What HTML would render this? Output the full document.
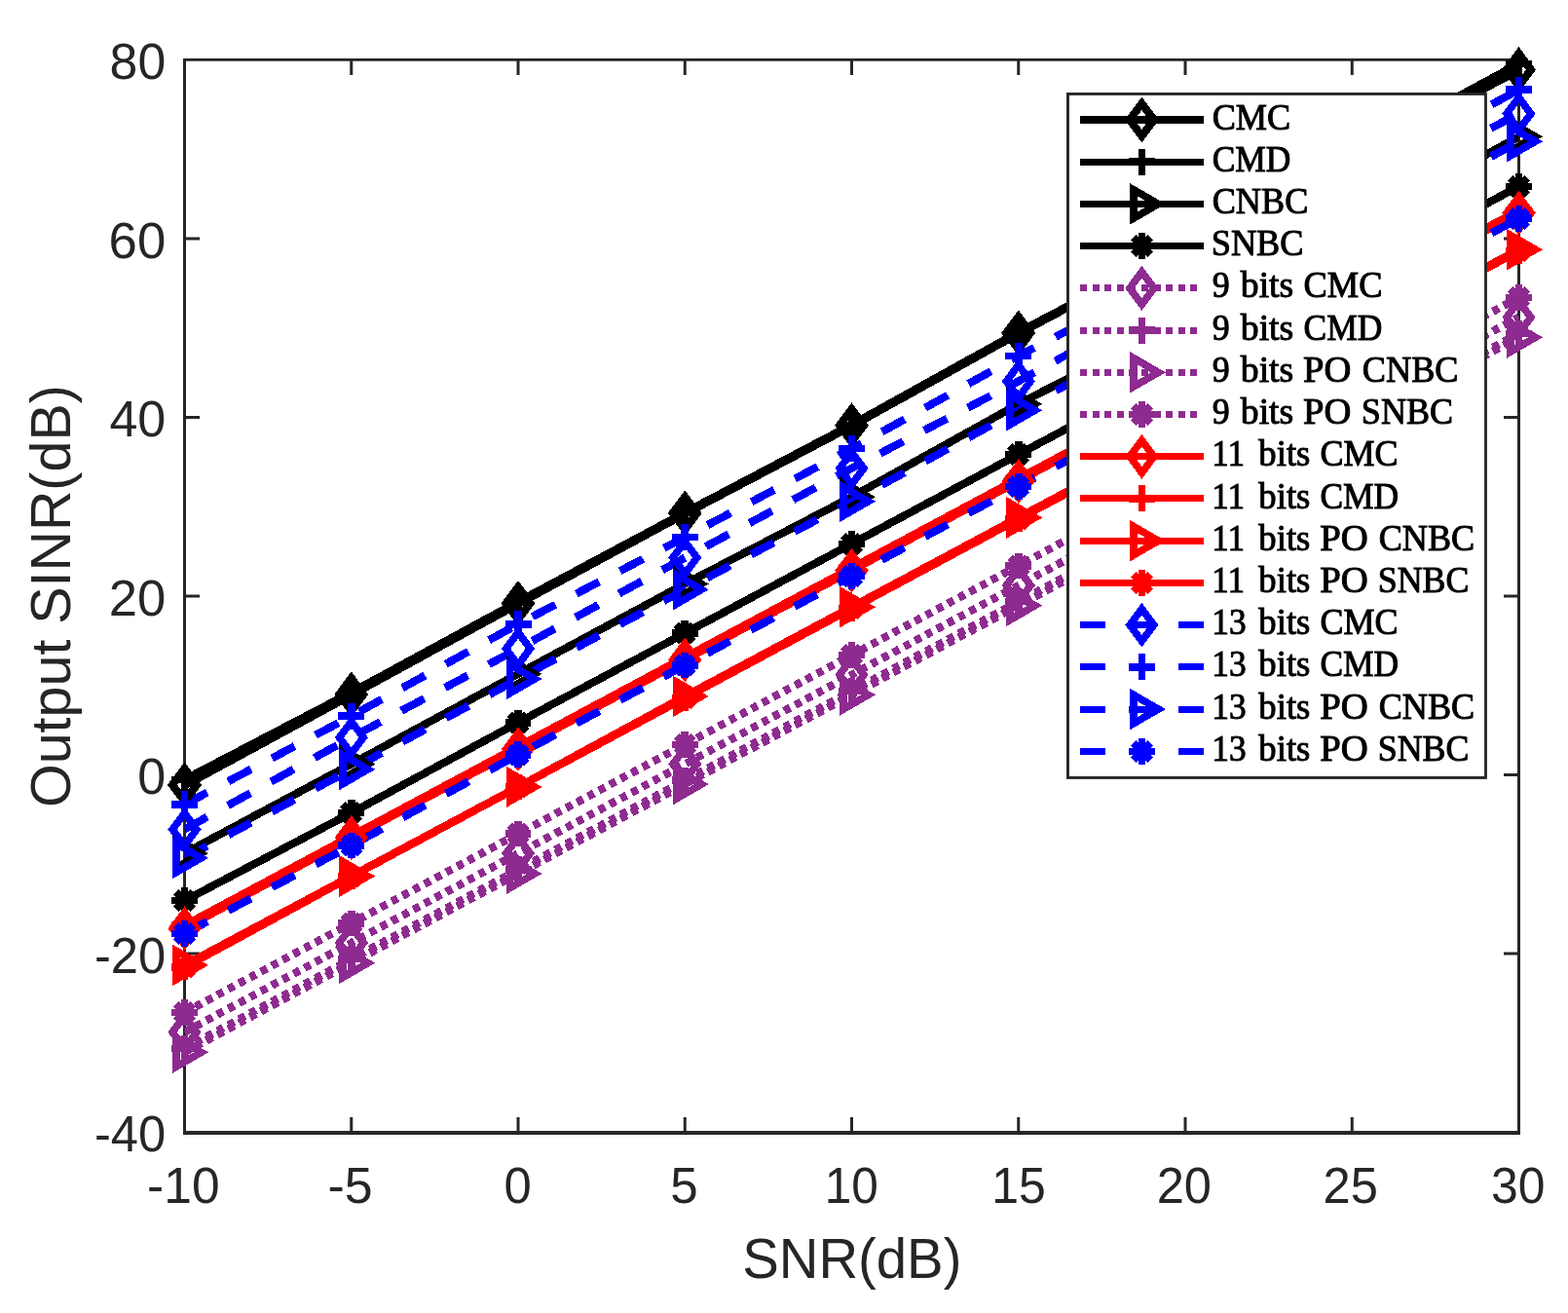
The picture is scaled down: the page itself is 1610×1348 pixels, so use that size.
<!DOCTYPE html>
<html lang="en"><head><meta charset="utf-8"><title>Output SINR versus SNR</title>
<style>html,body{margin:0;padding:0;background:#fff}body{width:1610px;height:1348px;overflow:hidden}svg{display:block}text{font-family:"Liberation Sans",Arial,Helvetica,sans-serif;fill:#262626}.tk{font-size:52px}.lb{font-size:57px}text.lg{font-family:"Liberation Serif","Times New Roman",serif;font-size:38px;fill:#000;stroke:#000;stroke-width:1px}</style></head><body>
<svg width="1610" height="1348" viewBox="0 0 1610 1348">
<rect width="1610" height="1348" fill="#fff"/>
<defs><clipPath id="c"><rect x="189.5" y="61.5" width="1370" height="1101"/></clipPath></defs>
<path fill="#262626" d="M188 60H191V1164.9H188ZM1558 60H1561V1164.9H1558ZM188 60H1561V62.8H188ZM188 1161.1H1561V1164.9H188ZM359.25 1147H362.25V1162H359.25ZM359.25 62H362.25V77H359.25ZM530.5 1147H533.5V1162H530.5ZM530.5 62H533.5V77H530.5ZM701.75 1147H704.75V1162H701.75ZM701.75 62H704.75V77H701.75ZM873 1147H876V1162H873ZM873 62H876V77H873ZM1044.25 1147H1047.25V1162H1044.25ZM1044.25 62H1047.25V77H1044.25ZM1215.5 1147H1218.5V1162H1215.5ZM1215.5 62H1218.5V77H1215.5ZM1386.75 1147H1389.75V1162H1386.75ZM1386.75 62H1389.75V77H1386.75ZM190 977.4H205V980.6H190ZM1544 977.4H1559V980.6H1544ZM190 793.9H205V797.1H190ZM1544 793.9H1559V797.1H1544ZM190 610.4H205V613.6H190ZM1544 610.4H1559V613.6H1544ZM190 426.9H205V430.1H190ZM1544 426.9H1559V430.1H1544ZM190 243.4H205V246.6H190ZM1544 243.4H1559V246.6H1544Z"/>
<g class="tk">
<text transform="translate(151.09 1235.3) scale(0.9904 1)">-10</text>
<text transform="translate(336.47 1235.3) scale(0.9973 1)">-5</text>
<text transform="translate(517.6 1235.3) scale(0.9761 1)">0</text>
<text transform="translate(688.35 1235.3) scale(0.9834 1)">5</text>
<text transform="translate(846.82 1235.3) scale(0.9523 1)">10</text>
<text transform="translate(1018.19 1235.3) scale(0.9609 1)">15</text>
<text transform="translate(1187.65 1235.3) scale(0.9732 1)">20</text>
<text transform="translate(1358.45 1235.3) scale(0.9760 1)">25</text>
<text transform="translate(1530.98 1235.3) scale(0.9584 1)">30</text>
<text transform="translate(112.6 81.1) scale(0.9957 1)">80</text>
<text transform="translate(111.61 264.6) scale(1.0134 1)">60</text>
<text transform="translate(112.39 448.1) scale(0.9994 1)">40</text>
<text transform="translate(111.76 631.6) scale(1.0108 1)">20</text>
<text transform="translate(141.35 815.1) scale(1.0003 1)">0</text>
<text transform="translate(96.93 998.6) scale(0.9748 1)">-20</text>
<text transform="translate(96.93 1182.1) scale(0.9748 1)">-40</text>
</g>
<g class="lb">
<text transform="translate(762.21 1312.2) scale(0.9879 1)">SNR(dB)</text>
<text transform="translate(71.8 828.95) rotate(-90) scale(1.0070 1)">Output SINR(dB)</text>
</g>
<g clip-path="url(#c)" fill="none" stroke-width="8.2" shape-rendering="crispEdges">
<path d="M189.5 805.87L360.75 712.92L532 619.34L703.25 526.86L874.5 436.76L1045.75 341.8L1217 251.42L1388.25 161.51L1559.5 71.59" stroke="#000000" stroke-width="9.4"/>
<path d="M189.5 800.36L360.75 710.91L532 617.78L703.25 526.4L874.5 436.76L1045.75 341.8L1217 250.5L1388.25 157.84L1559.5 65.45" stroke="#000000"/>
<path d="M189.5 876.06L360.75 784.49L532 691.82L703.25 599.52L874.5 510.16L1045.75 414.83L1217 326.66L1388.25 234.91L1559.5 140.22" stroke="#000000"/>
<path d="M189.5 924.68L360.75 834.59L532 741.83L703.25 650.08L874.5 558.33L1045.75 466.58L1217 374.83L1388.25 283.08L1559.5 191.33" stroke="#000000"/>
<path d="M189.5 1059.74L360.75 967.99L532 876.24L703.25 784.49L874.5 692.74L1045.75 600.99L1217 509.24L1388.25 417.49L1559.5 325.74" stroke="#8E2B90" stroke-dasharray="7 5.7"/>
<path d="M189.5 1076.44L360.75 984.69L532 892.94L703.25 801.19L874.5 709.44L1045.75 617.69L1217 525.94L1388.25 434.19L1559.5 342.44" stroke="#8E2B90" stroke-dasharray="7 5.7"/>
<path d="M189.5 1080.38L360.75 988.63L532 896.88L703.25 805.13L874.5 713.38L1045.75 621.63L1217 529.88L1388.25 438.13L1559.5 346.38" stroke="#8E2B90" stroke-dasharray="7 5.7"/>
<path d="M189.5 1039.56L360.75 947.81L532 856.06L703.25 764.31L874.5 672.56L1045.75 580.81L1217 489.05L1388.25 397.3L1559.5 305.55" stroke="#8E2B90" stroke-dasharray="7 5.7"/>
<path d="M189.5 953.22L360.75 860L532 769.17L703.25 677.42L874.5 585.67L1045.75 493.92L1217 402.17L1388.25 310.42L1559.5 218.67" stroke="#FF0000"/>
<path d="M189.5 950.1L360.75 858.35L532 766.6L703.25 674.85L874.5 583.1L1045.75 491.35L1217 399.6L1388.25 307.85L1559.5 216.1" stroke="#FF0000"/>
<path d="M189.5 990.93L360.75 899.45L532 807.89L703.25 714.94L874.5 623.19L1045.75 531.44L1217 439.69L1388.25 347.94L1559.5 256.19" stroke="#FF0000"/>
<path d="M189.5 993.04L360.75 899.91L532 808.16L703.25 716.41L874.5 624.66L1045.75 532.91L1217 441.16L1388.25 349.41L1559.5 257.66" stroke="#FF0000"/>
<path d="M189.5 851.47L360.75 757.15L532 665.95L703.25 572.55L874.5 480.8L1045.75 391.43L1217 297.3L1388.25 205.55L1559.5 116.73" stroke="#0000FF" stroke-dasharray="26.5 24.25"/>
<path d="M189.5 825.96L360.75 735.22L532 640.72L703.25 551.45L874.5 460.61L1045.75 365.47L1217 277.11L1388.25 185.36L1559.5 92.05" stroke="#0000FF" stroke-dasharray="26.5 24.25"/>
<path d="M189.5 880.92L360.75 789.9L532 697.05L703.25 605.3L874.5 514.75L1045.75 421.16L1217 331.25L1388.25 239.5L1559.5 145.18" stroke="#0000FF" stroke-dasharray="26.5 24.25"/>
<path d="M189.5 958.45L360.75 867.98L532 774.76L703.25 683.01L874.5 591.26L1045.75 499.51L1217 407.76L1388.25 316.01L1559.5 224.26" stroke="#0000FF" stroke-dasharray="26.5 24.25"/>
</g>
<g shape-rendering="crispEdges">
<path d="M189.5 789.27L201.9 805.87L189.5 822.47L177.1 805.87Z" fill="none" stroke="#000000" stroke-width="8.2" stroke-linejoin="miter" stroke-miterlimit="10"/>
<path d="M360.75 696.32L373.15 712.92L360.75 729.52L348.35 712.92Z" fill="none" stroke="#000000" stroke-width="8.2" stroke-linejoin="miter" stroke-miterlimit="10"/>
<path d="M532 602.74L544.4 619.34L532 635.94L519.6 619.34Z" fill="none" stroke="#000000" stroke-width="8.2" stroke-linejoin="miter" stroke-miterlimit="10"/>
<path d="M703.25 510.26L715.65 526.86L703.25 543.46L690.85 526.86Z" fill="none" stroke="#000000" stroke-width="8.2" stroke-linejoin="miter" stroke-miterlimit="10"/>
<path d="M874.5 420.16L886.9 436.76L874.5 453.36L862.1 436.76Z" fill="none" stroke="#000000" stroke-width="8.2" stroke-linejoin="miter" stroke-miterlimit="10"/>
<path d="M1045.75 325.2L1058.15 341.8L1045.75 358.4L1033.35 341.8Z" fill="none" stroke="#000000" stroke-width="8.2" stroke-linejoin="miter" stroke-miterlimit="10"/>
<path d="M1217 234.82L1229.4 251.42L1217 268.02L1204.6 251.42Z" fill="none" stroke="#000000" stroke-width="8.2" stroke-linejoin="miter" stroke-miterlimit="10"/>
<path d="M1388.25 144.91L1400.65 161.51L1388.25 178.11L1375.85 161.51Z" fill="none" stroke="#000000" stroke-width="8.2" stroke-linejoin="miter" stroke-miterlimit="10"/>
<path d="M1559.5 54.99L1571.9 71.59L1559.5 88.19L1547.1 71.59Z" fill="none" stroke="#000000" stroke-width="8.2" stroke-linejoin="miter" stroke-miterlimit="10"/>
<path d="M176 800.36H203M189.5 786.86V813.86" fill="none" stroke="#000000" stroke-width="7.6"/>
<path d="M347.25 710.91H374.25M360.75 697.41V724.41" fill="none" stroke="#000000" stroke-width="7.6"/>
<path d="M518.5 617.78H545.5M532 604.28V631.28" fill="none" stroke="#000000" stroke-width="7.6"/>
<path d="M689.75 526.4H716.75M703.25 512.9V539.9" fill="none" stroke="#000000" stroke-width="7.6"/>
<path d="M861 436.76H888M874.5 423.26V450.26" fill="none" stroke="#000000" stroke-width="7.6"/>
<path d="M1032.25 341.8H1059.25M1045.75 328.3V355.3" fill="none" stroke="#000000" stroke-width="7.6"/>
<path d="M1203.5 250.5H1230.5M1217 237V264" fill="none" stroke="#000000" stroke-width="7.6"/>
<path d="M1374.75 157.84H1401.75M1388.25 144.34V171.34" fill="none" stroke="#000000" stroke-width="7.6"/>
<path d="M1546 65.45H1573M1559.5 51.95V78.95" fill="none" stroke="#000000" stroke-width="7.6"/>
<path d="M206.5 876.06L181 861.33L181 890.78Z" fill="none" stroke="#000000" stroke-width="7.6" stroke-linejoin="miter" stroke-miterlimit="10"/>
<path d="M377.75 784.49L352.25 769.77L352.25 799.21Z" fill="none" stroke="#000000" stroke-width="7.6" stroke-linejoin="miter" stroke-miterlimit="10"/>
<path d="M549 691.82L523.5 677.1L523.5 706.54Z" fill="none" stroke="#000000" stroke-width="7.6" stroke-linejoin="miter" stroke-miterlimit="10"/>
<path d="M720.25 599.52L694.75 584.8L694.75 614.24Z" fill="none" stroke="#000000" stroke-width="7.6" stroke-linejoin="miter" stroke-miterlimit="10"/>
<path d="M891.5 510.16L866 495.44L866 524.88Z" fill="none" stroke="#000000" stroke-width="7.6" stroke-linejoin="miter" stroke-miterlimit="10"/>
<path d="M1062.75 414.83L1037.25 400.11L1037.25 429.55Z" fill="none" stroke="#000000" stroke-width="7.6" stroke-linejoin="miter" stroke-miterlimit="10"/>
<path d="M1234 326.66L1208.5 311.94L1208.5 341.38Z" fill="none" stroke="#000000" stroke-width="7.6" stroke-linejoin="miter" stroke-miterlimit="10"/>
<path d="M1405.25 234.91L1379.75 220.19L1379.75 249.63Z" fill="none" stroke="#000000" stroke-width="7.6" stroke-linejoin="miter" stroke-miterlimit="10"/>
<path d="M1576.5 140.22L1551 125.5L1551 154.94Z" fill="none" stroke="#000000" stroke-width="7.6" stroke-linejoin="miter" stroke-miterlimit="10"/>
<path d="M176.2 924.68H202.8M189.5 911.38V937.98M180.73 915.92L198.27 933.45M180.73 933.45L198.27 915.92" fill="none" stroke="#000000" stroke-width="7.6"/>
<path d="M347.45 834.59H374.05M360.75 821.29V847.89M351.98 825.82L369.52 843.35M351.98 843.35L369.52 825.82" fill="none" stroke="#000000" stroke-width="7.6"/>
<path d="M518.7 741.83H545.3M532 728.53V755.13M523.23 733.06L540.77 750.59M523.23 750.59L540.77 733.06" fill="none" stroke="#000000" stroke-width="7.6"/>
<path d="M689.95 650.08H716.55M703.25 636.78V663.38M694.48 641.31L712.02 658.84M694.48 658.84L712.02 641.31" fill="none" stroke="#000000" stroke-width="7.6"/>
<path d="M861.2 558.33H887.8M874.5 545.03V571.63M865.73 549.56L883.27 567.09M865.73 567.09L883.27 549.56" fill="none" stroke="#000000" stroke-width="7.6"/>
<path d="M1032.45 466.58H1059.05M1045.75 453.28V479.88M1036.98 457.81L1054.52 475.34M1036.98 475.34L1054.52 457.81" fill="none" stroke="#000000" stroke-width="7.6"/>
<path d="M1203.7 374.83H1230.3M1217 361.53V388.13M1208.23 366.06L1225.77 383.59M1208.23 383.59L1225.77 366.06" fill="none" stroke="#000000" stroke-width="7.6"/>
<path d="M1374.95 283.08H1401.55M1388.25 269.78V296.38M1379.48 274.31L1397.02 291.84M1379.48 291.84L1397.02 274.31" fill="none" stroke="#000000" stroke-width="7.6"/>
<path d="M1546.2 191.33H1572.8M1559.5 178.03V204.63M1550.73 182.56L1568.27 200.09M1550.73 200.09L1568.27 182.56" fill="none" stroke="#000000" stroke-width="7.6"/>
<path d="M189.5 1043.14L201.9 1059.74L189.5 1076.34L177.1 1059.74Z" fill="none" stroke="#8E2B90" stroke-width="7.6" stroke-linejoin="miter" stroke-miterlimit="10"/>
<path d="M360.75 951.39L373.15 967.99L360.75 984.59L348.35 967.99Z" fill="none" stroke="#8E2B90" stroke-width="7.6" stroke-linejoin="miter" stroke-miterlimit="10"/>
<path d="M532 859.64L544.4 876.24L532 892.84L519.6 876.24Z" fill="none" stroke="#8E2B90" stroke-width="7.6" stroke-linejoin="miter" stroke-miterlimit="10"/>
<path d="M703.25 767.89L715.65 784.49L703.25 801.09L690.85 784.49Z" fill="none" stroke="#8E2B90" stroke-width="7.6" stroke-linejoin="miter" stroke-miterlimit="10"/>
<path d="M874.5 676.14L886.9 692.74L874.5 709.34L862.1 692.74Z" fill="none" stroke="#8E2B90" stroke-width="7.6" stroke-linejoin="miter" stroke-miterlimit="10"/>
<path d="M1045.75 584.39L1058.15 600.99L1045.75 617.59L1033.35 600.99Z" fill="none" stroke="#8E2B90" stroke-width="7.6" stroke-linejoin="miter" stroke-miterlimit="10"/>
<path d="M1217 492.64L1229.4 509.24L1217 525.84L1204.6 509.24Z" fill="none" stroke="#8E2B90" stroke-width="7.6" stroke-linejoin="miter" stroke-miterlimit="10"/>
<path d="M1388.25 400.89L1400.65 417.49L1388.25 434.09L1375.85 417.49Z" fill="none" stroke="#8E2B90" stroke-width="7.6" stroke-linejoin="miter" stroke-miterlimit="10"/>
<path d="M1559.5 309.14L1571.9 325.74L1559.5 342.34L1547.1 325.74Z" fill="none" stroke="#8E2B90" stroke-width="7.6" stroke-linejoin="miter" stroke-miterlimit="10"/>
<path d="M176 1076.44H203M189.5 1062.94V1089.94" fill="none" stroke="#8E2B90" stroke-width="7.6"/>
<path d="M347.25 984.69H374.25M360.75 971.19V998.19" fill="none" stroke="#8E2B90" stroke-width="7.6"/>
<path d="M518.5 892.94H545.5M532 879.44V906.44" fill="none" stroke="#8E2B90" stroke-width="7.6"/>
<path d="M689.75 801.19H716.75M703.25 787.69V814.69" fill="none" stroke="#8E2B90" stroke-width="7.6"/>
<path d="M861 709.44H888M874.5 695.94V722.94" fill="none" stroke="#8E2B90" stroke-width="7.6"/>
<path d="M1032.25 617.69H1059.25M1045.75 604.19V631.19" fill="none" stroke="#8E2B90" stroke-width="7.6"/>
<path d="M1203.5 525.94H1230.5M1217 512.44V539.44" fill="none" stroke="#8E2B90" stroke-width="7.6"/>
<path d="M1374.75 434.19H1401.75M1388.25 420.69V447.69" fill="none" stroke="#8E2B90" stroke-width="7.6"/>
<path d="M1546 342.44H1573M1559.5 328.94V355.94" fill="none" stroke="#8E2B90" stroke-width="7.6"/>
<path d="M206.5 1080.38L181 1065.66L181 1095.11Z" fill="none" stroke="#8E2B90" stroke-width="7.6" stroke-linejoin="miter" stroke-miterlimit="10"/>
<path d="M377.75 988.63L352.25 973.91L352.25 1003.36Z" fill="none" stroke="#8E2B90" stroke-width="7.6" stroke-linejoin="miter" stroke-miterlimit="10"/>
<path d="M549 896.88L523.5 882.16L523.5 911.61Z" fill="none" stroke="#8E2B90" stroke-width="7.6" stroke-linejoin="miter" stroke-miterlimit="10"/>
<path d="M720.25 805.13L694.75 790.41L694.75 819.86Z" fill="none" stroke="#8E2B90" stroke-width="7.6" stroke-linejoin="miter" stroke-miterlimit="10"/>
<path d="M891.5 713.38L866 698.66L866 728.11Z" fill="none" stroke="#8E2B90" stroke-width="7.6" stroke-linejoin="miter" stroke-miterlimit="10"/>
<path d="M1062.75 621.63L1037.25 606.91L1037.25 636.36Z" fill="none" stroke="#8E2B90" stroke-width="7.6" stroke-linejoin="miter" stroke-miterlimit="10"/>
<path d="M1234 529.88L1208.5 515.16L1208.5 544.61Z" fill="none" stroke="#8E2B90" stroke-width="7.6" stroke-linejoin="miter" stroke-miterlimit="10"/>
<path d="M1405.25 438.13L1379.75 423.41L1379.75 452.86Z" fill="none" stroke="#8E2B90" stroke-width="7.6" stroke-linejoin="miter" stroke-miterlimit="10"/>
<path d="M1576.5 346.38L1551 331.66L1551 361.11Z" fill="none" stroke="#8E2B90" stroke-width="7.6" stroke-linejoin="miter" stroke-miterlimit="10"/>
<path d="M176.2 1039.56H202.8M189.5 1026.26V1052.86M180.73 1030.79L198.27 1048.32M180.73 1048.32L198.27 1030.79" fill="none" stroke="#8E2B90" stroke-width="7.6"/>
<path d="M347.45 947.81H374.05M360.75 934.51V961.11M351.98 939.04L369.52 956.57M351.98 956.57L369.52 939.04" fill="none" stroke="#8E2B90" stroke-width="7.6"/>
<path d="M518.7 856.06H545.3M532 842.76V869.36M523.23 847.29L540.77 864.82M523.23 864.82L540.77 847.29" fill="none" stroke="#8E2B90" stroke-width="7.6"/>
<path d="M689.95 764.31H716.55M703.25 751.01V777.61M694.48 755.54L712.02 773.07M694.48 773.07L712.02 755.54" fill="none" stroke="#8E2B90" stroke-width="7.6"/>
<path d="M861.2 672.56H887.8M874.5 659.26V685.86M865.73 663.79L883.27 681.32M865.73 681.32L883.27 663.79" fill="none" stroke="#8E2B90" stroke-width="7.6"/>
<path d="M1032.45 580.81H1059.05M1045.75 567.51V594.11M1036.98 572.04L1054.52 589.57M1036.98 589.57L1054.52 572.04" fill="none" stroke="#8E2B90" stroke-width="7.6"/>
<path d="M1203.7 489.05H1230.3M1217 475.75V502.35M1208.23 480.29L1225.77 497.82M1208.23 497.82L1225.77 480.29" fill="none" stroke="#8E2B90" stroke-width="7.6"/>
<path d="M1374.95 397.3H1401.55M1388.25 384V410.6M1379.48 388.54L1397.02 406.07M1379.48 406.07L1397.02 388.54" fill="none" stroke="#8E2B90" stroke-width="7.6"/>
<path d="M1546.2 305.55H1572.8M1559.5 292.25V318.85M1550.73 296.79L1568.27 314.32M1550.73 314.32L1568.27 296.79" fill="none" stroke="#8E2B90" stroke-width="7.6"/>
<path d="M189.5 936.62L201.9 953.22L189.5 969.82L177.1 953.22Z" fill="none" stroke="#FF0000" stroke-width="7.6" stroke-linejoin="miter" stroke-miterlimit="10"/>
<path d="M360.75 843.4L373.15 860L360.75 876.6L348.35 860Z" fill="none" stroke="#FF0000" stroke-width="7.6" stroke-linejoin="miter" stroke-miterlimit="10"/>
<path d="M532 752.57L544.4 769.17L532 785.77L519.6 769.17Z" fill="none" stroke="#FF0000" stroke-width="7.6" stroke-linejoin="miter" stroke-miterlimit="10"/>
<path d="M703.25 660.82L715.65 677.42L703.25 694.02L690.85 677.42Z" fill="none" stroke="#FF0000" stroke-width="7.6" stroke-linejoin="miter" stroke-miterlimit="10"/>
<path d="M874.5 569.07L886.9 585.67L874.5 602.27L862.1 585.67Z" fill="none" stroke="#FF0000" stroke-width="7.6" stroke-linejoin="miter" stroke-miterlimit="10"/>
<path d="M1045.75 477.32L1058.15 493.92L1045.75 510.52L1033.35 493.92Z" fill="none" stroke="#FF0000" stroke-width="7.6" stroke-linejoin="miter" stroke-miterlimit="10"/>
<path d="M1217 385.57L1229.4 402.17L1217 418.77L1204.6 402.17Z" fill="none" stroke="#FF0000" stroke-width="7.6" stroke-linejoin="miter" stroke-miterlimit="10"/>
<path d="M1388.25 293.82L1400.65 310.42L1388.25 327.02L1375.85 310.42Z" fill="none" stroke="#FF0000" stroke-width="7.6" stroke-linejoin="miter" stroke-miterlimit="10"/>
<path d="M1559.5 202.07L1571.9 218.67L1559.5 235.27L1547.1 218.67Z" fill="none" stroke="#FF0000" stroke-width="7.6" stroke-linejoin="miter" stroke-miterlimit="10"/>
<path d="M176 950.1H203M189.5 936.6V963.6" fill="none" stroke="#FF0000" stroke-width="7.6"/>
<path d="M347.25 858.35H374.25M360.75 844.85V871.85" fill="none" stroke="#FF0000" stroke-width="7.6"/>
<path d="M518.5 766.6H545.5M532 753.1V780.1" fill="none" stroke="#FF0000" stroke-width="7.6"/>
<path d="M689.75 674.85H716.75M703.25 661.35V688.35" fill="none" stroke="#FF0000" stroke-width="7.6"/>
<path d="M861 583.1H888M874.5 569.6V596.6" fill="none" stroke="#FF0000" stroke-width="7.6"/>
<path d="M1032.25 491.35H1059.25M1045.75 477.85V504.85" fill="none" stroke="#FF0000" stroke-width="7.6"/>
<path d="M1203.5 399.6H1230.5M1217 386.1V413.1" fill="none" stroke="#FF0000" stroke-width="7.6"/>
<path d="M1374.75 307.85H1401.75M1388.25 294.35V321.35" fill="none" stroke="#FF0000" stroke-width="7.6"/>
<path d="M1546 216.1H1573M1559.5 202.6V229.6" fill="none" stroke="#FF0000" stroke-width="7.6"/>
<path d="M206.5 990.93L181 976.21L181 1005.65Z" fill="none" stroke="#FF0000" stroke-width="7.6" stroke-linejoin="miter" stroke-miterlimit="10"/>
<path d="M377.75 899.45L352.25 884.73L352.25 914.17Z" fill="none" stroke="#FF0000" stroke-width="7.6" stroke-linejoin="miter" stroke-miterlimit="10"/>
<path d="M549 807.89L523.5 793.16L523.5 822.61Z" fill="none" stroke="#FF0000" stroke-width="7.6" stroke-linejoin="miter" stroke-miterlimit="10"/>
<path d="M720.25 714.94L694.75 700.22L694.75 729.67Z" fill="none" stroke="#FF0000" stroke-width="7.6" stroke-linejoin="miter" stroke-miterlimit="10"/>
<path d="M891.5 623.19L866 608.47L866 637.92Z" fill="none" stroke="#FF0000" stroke-width="7.6" stroke-linejoin="miter" stroke-miterlimit="10"/>
<path d="M1062.75 531.44L1037.25 516.72L1037.25 546.17Z" fill="none" stroke="#FF0000" stroke-width="7.6" stroke-linejoin="miter" stroke-miterlimit="10"/>
<path d="M1234 439.69L1208.5 424.97L1208.5 454.42Z" fill="none" stroke="#FF0000" stroke-width="7.6" stroke-linejoin="miter" stroke-miterlimit="10"/>
<path d="M1405.25 347.94L1379.75 333.22L1379.75 362.67Z" fill="none" stroke="#FF0000" stroke-width="7.6" stroke-linejoin="miter" stroke-miterlimit="10"/>
<path d="M1576.5 256.19L1551 241.47L1551 270.92Z" fill="none" stroke="#FF0000" stroke-width="7.6" stroke-linejoin="miter" stroke-miterlimit="10"/>
<path d="M176.2 993.04H202.8M189.5 979.74V1006.34M180.73 984.27L198.27 1001.81M180.73 1001.81L198.27 984.27" fill="none" stroke="#FF0000" stroke-width="7.6"/>
<path d="M347.45 899.91H374.05M360.75 886.61V913.21M351.98 891.14L369.52 908.68M351.98 908.68L369.52 891.14" fill="none" stroke="#FF0000" stroke-width="7.6"/>
<path d="M518.7 808.16H545.3M532 794.86V821.46M523.23 799.39L540.77 816.93M523.23 816.93L540.77 799.39" fill="none" stroke="#FF0000" stroke-width="7.6"/>
<path d="M689.95 716.41H716.55M703.25 703.11V729.71M694.48 707.64L712.02 725.18M694.48 725.18L712.02 707.64" fill="none" stroke="#FF0000" stroke-width="7.6"/>
<path d="M861.2 624.66H887.8M874.5 611.36V637.96M865.73 615.89L883.27 633.43M865.73 633.43L883.27 615.89" fill="none" stroke="#FF0000" stroke-width="7.6"/>
<path d="M1032.45 532.91H1059.05M1045.75 519.61V546.21M1036.98 524.14L1054.52 541.68M1036.98 541.68L1054.52 524.14" fill="none" stroke="#FF0000" stroke-width="7.6"/>
<path d="M1203.7 441.16H1230.3M1217 427.86V454.46M1208.23 432.39L1225.77 449.93M1208.23 449.93L1225.77 432.39" fill="none" stroke="#FF0000" stroke-width="7.6"/>
<path d="M1374.95 349.41H1401.55M1388.25 336.11V362.71M1379.48 340.64L1397.02 358.18M1379.48 358.18L1397.02 340.64" fill="none" stroke="#FF0000" stroke-width="7.6"/>
<path d="M1546.2 257.66H1572.8M1559.5 244.36V270.96M1550.73 248.89L1568.27 266.43M1550.73 266.43L1568.27 248.89" fill="none" stroke="#FF0000" stroke-width="7.6"/>
<path d="M189.5 834.87L201.9 851.47L189.5 868.07L177.1 851.47Z" fill="none" stroke="#0000FF" stroke-width="7.6" stroke-linejoin="miter" stroke-miterlimit="10"/>
<path d="M360.75 740.55L373.15 757.15L360.75 773.75L348.35 757.15Z" fill="none" stroke="#0000FF" stroke-width="7.6" stroke-linejoin="miter" stroke-miterlimit="10"/>
<path d="M532 649.35L544.4 665.95L532 682.55L519.6 665.95Z" fill="none" stroke="#0000FF" stroke-width="7.6" stroke-linejoin="miter" stroke-miterlimit="10"/>
<path d="M703.25 555.95L715.65 572.55L703.25 589.15L690.85 572.55Z" fill="none" stroke="#0000FF" stroke-width="7.6" stroke-linejoin="miter" stroke-miterlimit="10"/>
<path d="M874.5 464.2L886.9 480.8L874.5 497.4L862.1 480.8Z" fill="none" stroke="#0000FF" stroke-width="7.6" stroke-linejoin="miter" stroke-miterlimit="10"/>
<path d="M1045.75 374.83L1058.15 391.43L1045.75 408.03L1033.35 391.43Z" fill="none" stroke="#0000FF" stroke-width="7.6" stroke-linejoin="miter" stroke-miterlimit="10"/>
<path d="M1217 280.7L1229.4 297.3L1217 313.9L1204.6 297.3Z" fill="none" stroke="#0000FF" stroke-width="7.6" stroke-linejoin="miter" stroke-miterlimit="10"/>
<path d="M1388.25 188.95L1400.65 205.55L1388.25 222.15L1375.85 205.55Z" fill="none" stroke="#0000FF" stroke-width="7.6" stroke-linejoin="miter" stroke-miterlimit="10"/>
<path d="M1559.5 100.13L1571.9 116.73L1559.5 133.33L1547.1 116.73Z" fill="none" stroke="#0000FF" stroke-width="7.6" stroke-linejoin="miter" stroke-miterlimit="10"/>
<path d="M176 825.96H203M189.5 812.46V839.46" fill="none" stroke="#0000FF" stroke-width="7.6"/>
<path d="M347.25 735.22H374.25M360.75 721.72V748.72" fill="none" stroke="#0000FF" stroke-width="7.6"/>
<path d="M518.5 640.72H545.5M532 627.22V654.22" fill="none" stroke="#0000FF" stroke-width="7.6"/>
<path d="M689.75 551.45H716.75M703.25 537.95V564.95" fill="none" stroke="#0000FF" stroke-width="7.6"/>
<path d="M861 460.61H888M874.5 447.11V474.11" fill="none" stroke="#0000FF" stroke-width="7.6"/>
<path d="M1032.25 365.47H1059.25M1045.75 351.97V378.97" fill="none" stroke="#0000FF" stroke-width="7.6"/>
<path d="M1203.5 277.11H1230.5M1217 263.61V290.61" fill="none" stroke="#0000FF" stroke-width="7.6"/>
<path d="M1374.75 185.36H1401.75M1388.25 171.86V198.86" fill="none" stroke="#0000FF" stroke-width="7.6"/>
<path d="M1546 92.05H1573M1559.5 78.55V105.55" fill="none" stroke="#0000FF" stroke-width="7.6"/>
<path d="M206.5 880.92L181 866.2L181 895.64Z" fill="none" stroke="#0000FF" stroke-width="7.6" stroke-linejoin="miter" stroke-miterlimit="10"/>
<path d="M377.75 789.9L352.25 775.18L352.25 804.63Z" fill="none" stroke="#0000FF" stroke-width="7.6" stroke-linejoin="miter" stroke-miterlimit="10"/>
<path d="M549 697.05L523.5 682.33L523.5 711.77Z" fill="none" stroke="#0000FF" stroke-width="7.6" stroke-linejoin="miter" stroke-miterlimit="10"/>
<path d="M720.25 605.3L694.75 590.58L694.75 620.02Z" fill="none" stroke="#0000FF" stroke-width="7.6" stroke-linejoin="miter" stroke-miterlimit="10"/>
<path d="M891.5 514.75L866 500.02L866 529.47Z" fill="none" stroke="#0000FF" stroke-width="7.6" stroke-linejoin="miter" stroke-miterlimit="10"/>
<path d="M1062.75 421.16L1037.25 406.44L1037.25 435.88Z" fill="none" stroke="#0000FF" stroke-width="7.6" stroke-linejoin="miter" stroke-miterlimit="10"/>
<path d="M1234 331.25L1208.5 316.52L1208.5 345.97Z" fill="none" stroke="#0000FF" stroke-width="7.6" stroke-linejoin="miter" stroke-miterlimit="10"/>
<path d="M1405.25 239.5L1379.75 224.77L1379.75 254.22Z" fill="none" stroke="#0000FF" stroke-width="7.6" stroke-linejoin="miter" stroke-miterlimit="10"/>
<path d="M1576.5 145.18L1551 130.45L1551 159.9Z" fill="none" stroke="#0000FF" stroke-width="7.6" stroke-linejoin="miter" stroke-miterlimit="10"/>
<path d="M176.2 958.45H202.8M189.5 945.15V971.75M180.73 949.68L198.27 967.22M180.73 967.22L198.27 949.68" fill="none" stroke="#0000FF" stroke-width="7.6"/>
<path d="M347.45 867.98H374.05M360.75 854.68V881.28M351.98 859.21L369.52 876.75M351.98 876.75L369.52 859.21" fill="none" stroke="#0000FF" stroke-width="7.6"/>
<path d="M518.7 774.76H545.3M532 761.46V788.06M523.23 766L540.77 783.53M523.23 783.53L540.77 766" fill="none" stroke="#0000FF" stroke-width="7.6"/>
<path d="M689.95 683.01H716.55M703.25 669.71V696.31M694.48 674.25L712.02 691.78M694.48 691.78L712.02 674.25" fill="none" stroke="#0000FF" stroke-width="7.6"/>
<path d="M861.2 591.26H887.8M874.5 577.96V604.56M865.73 582.5L883.27 600.03M865.73 600.03L883.27 582.5" fill="none" stroke="#0000FF" stroke-width="7.6"/>
<path d="M1032.45 499.51H1059.05M1045.75 486.21V512.81M1036.98 490.75L1054.52 508.28M1036.98 508.28L1054.52 490.75" fill="none" stroke="#0000FF" stroke-width="7.6"/>
<path d="M1203.7 407.76H1230.3M1217 394.46V421.06M1208.23 399L1225.77 416.53M1208.23 416.53L1225.77 399" fill="none" stroke="#0000FF" stroke-width="7.6"/>
<path d="M1374.95 316.01H1401.55M1388.25 302.71V329.31M1379.48 307.25L1397.02 324.78M1379.48 324.78L1397.02 307.25" fill="none" stroke="#0000FF" stroke-width="7.6"/>
<path d="M1546.2 224.26H1572.8M1559.5 210.96V237.56M1550.73 215.5L1568.27 233.03M1550.73 233.03L1568.27 215.5" fill="none" stroke="#0000FF" stroke-width="7.6"/>
</g>
<rect x="1095" y="95" width="431.9" height="704.9" fill="#262626"/><rect x="1097.95" y="97.9" width="426.1" height="699.1" fill="#fff"/>
<g shape-rendering="crispEdges">
<path d="M1109 123H1236" fill="none" stroke="#000000" stroke-width="8"/>
<path d="M1172.4 106.4L1184.8 123L1172.4 139.6L1160 123Z" fill="none" stroke="#000000" stroke-width="8.2" stroke-linejoin="miter" stroke-miterlimit="10"/>
</g>
<text class="lg" y="132.6"><tspan x="1244.69" textLength="80.52" lengthAdjust="spacingAndGlyphs">CMC</tspan></text>
<g shape-rendering="crispEdges">
<path d="M1109 166.22H1236" fill="none" stroke="#000000" stroke-width="7"/>
<path d="M1158.9 166.22H1185.9M1172.4 152.72V179.72" fill="none" stroke="#000000" stroke-width="7.6"/>
</g>
<text class="lg" y="175.82"><tspan x="1244.72" textLength="80.72" lengthAdjust="spacingAndGlyphs">CMD</tspan></text>
<g shape-rendering="crispEdges">
<path d="M1109 209.44H1236" fill="none" stroke="#000000" stroke-width="7"/>
<path d="M1189.4 209.44L1163.9 194.72L1163.9 224.16Z" fill="none" stroke="#000000" stroke-width="7.6" stroke-linejoin="miter" stroke-miterlimit="10"/>
</g>
<text class="lg" y="219.04"><tspan x="1244.69" textLength="98.62" lengthAdjust="spacingAndGlyphs">CNBC</tspan></text>
<g shape-rendering="crispEdges">
<path d="M1109 252.66H1236" fill="none" stroke="#000000" stroke-width="7"/>
<path d="M1159.1 252.66H1185.7M1172.4 239.36V265.96M1163.63 243.89L1181.17 261.43M1163.63 261.43L1181.17 243.89" fill="none" stroke="#000000" stroke-width="7.6"/>
</g>
<text class="lg" y="262.26"><tspan x="1243.74" textLength="94.79" lengthAdjust="spacingAndGlyphs">SNBC</tspan></text>
<g shape-rendering="crispEdges">
<path d="M1109 295.88H1230" fill="none" stroke="#8E2B90" stroke-width="7" stroke-dasharray="7 5.6"/>
<path d="M1172.4 279.28L1184.8 295.88L1172.4 312.48L1160 295.88Z" fill="none" stroke="#8E2B90" stroke-width="7.6" stroke-linejoin="miter" stroke-miterlimit="10"/>
</g>
<text class="lg" y="305.48"><tspan x="1244.78" textLength="17.93" lengthAdjust="spacingAndGlyphs">9</tspan> <tspan x="1273.79" textLength="54.5" lengthAdjust="spacingAndGlyphs">bits</tspan> <tspan x="1338.59" textLength="80.93" lengthAdjust="spacingAndGlyphs">CMC</tspan></text>
<g shape-rendering="crispEdges">
<path d="M1109 339.1H1230" fill="none" stroke="#8E2B90" stroke-width="7" stroke-dasharray="7 5.6"/>
<path d="M1158.9 339.1H1185.9M1172.4 325.6V352.6" fill="none" stroke="#8E2B90" stroke-width="7.6"/>
</g>
<text class="lg" y="348.7"><tspan x="1244.78" textLength="17.93" lengthAdjust="spacingAndGlyphs">9</tspan> <tspan x="1273.79" textLength="54.5" lengthAdjust="spacingAndGlyphs">bits</tspan> <tspan x="1338.62" textLength="80.82" lengthAdjust="spacingAndGlyphs">CMD</tspan></text>
<g shape-rendering="crispEdges">
<path d="M1109 382.32H1230" fill="none" stroke="#8E2B90" stroke-width="7" stroke-dasharray="7 5.6"/>
<path d="M1189.4 382.32L1163.9 367.6L1163.9 397.04Z" fill="none" stroke="#8E2B90" stroke-width="7.6" stroke-linejoin="miter" stroke-miterlimit="10"/>
</g>
<text class="lg" y="391.92"><tspan x="1244.78" textLength="17.93" lengthAdjust="spacingAndGlyphs">9</tspan> <tspan x="1273.79" textLength="54.5" lengthAdjust="spacingAndGlyphs">bits</tspan> <tspan x="1338.09" textLength="49.35" lengthAdjust="spacingAndGlyphs">PO</tspan> <tspan x="1398.79" textLength="98.72" lengthAdjust="spacingAndGlyphs">CNBC</tspan></text>
<g shape-rendering="crispEdges">
<path d="M1109 425.54H1230" fill="none" stroke="#8E2B90" stroke-width="7" stroke-dasharray="7 5.6"/>
<path d="M1159.1 425.54H1185.7M1172.4 412.24V438.84M1163.63 416.77L1181.17 434.31M1163.63 434.31L1181.17 416.77" fill="none" stroke="#8E2B90" stroke-width="7.6"/>
</g>
<text class="lg" y="435.14"><tspan x="1244.78" textLength="17.93" lengthAdjust="spacingAndGlyphs">9</tspan> <tspan x="1273.79" textLength="54.5" lengthAdjust="spacingAndGlyphs">bits</tspan> <tspan x="1338.09" textLength="49.35" lengthAdjust="spacingAndGlyphs">PO</tspan> <tspan x="1397.85" textLength="94.27" lengthAdjust="spacingAndGlyphs">SNBC</tspan></text>
<g shape-rendering="crispEdges">
<path d="M1109 468.76H1236" fill="none" stroke="#FF0000" stroke-width="7"/>
<path d="M1172.4 452.16L1184.8 468.76L1172.4 485.36L1160 468.76Z" fill="none" stroke="#FF0000" stroke-width="7.6" stroke-linejoin="miter" stroke-miterlimit="10"/>
</g>
<text class="lg" y="478.36"><tspan x="1244.28" textLength="33.7" lengthAdjust="spacingAndGlyphs">11</tspan> <tspan x="1292.37" textLength="52.99" lengthAdjust="spacingAndGlyphs">bits</tspan> <tspan x="1355.4" textLength="80" lengthAdjust="spacingAndGlyphs">CMC</tspan></text>
<g shape-rendering="crispEdges">
<path d="M1109 511.98H1236" fill="none" stroke="#FF0000" stroke-width="7"/>
<path d="M1158.9 511.98H1185.9M1172.4 498.48V525.48" fill="none" stroke="#FF0000" stroke-width="7.6"/>
</g>
<text class="lg" y="521.58"><tspan x="1244.28" textLength="33.7" lengthAdjust="spacingAndGlyphs">11</tspan> <tspan x="1292.37" textLength="52.99" lengthAdjust="spacingAndGlyphs">bits</tspan> <tspan x="1355.42" textLength="80.72" lengthAdjust="spacingAndGlyphs">CMD</tspan></text>
<g shape-rendering="crispEdges">
<path d="M1109 555.2H1236" fill="none" stroke="#FF0000" stroke-width="7"/>
<path d="M1189.4 555.2L1163.9 540.48L1163.9 569.92Z" fill="none" stroke="#FF0000" stroke-width="7.6" stroke-linejoin="miter" stroke-miterlimit="10"/>
</g>
<text class="lg" y="564.8"><tspan x="1244.28" textLength="33.7" lengthAdjust="spacingAndGlyphs">11</tspan> <tspan x="1292.37" textLength="52.99" lengthAdjust="spacingAndGlyphs">bits</tspan> <tspan x="1355.19" textLength="49.56" lengthAdjust="spacingAndGlyphs">PO</tspan> <tspan x="1415.7" textLength="98.52" lengthAdjust="spacingAndGlyphs">CNBC</tspan></text>
<g shape-rendering="crispEdges">
<path d="M1109 598.42H1236" fill="none" stroke="#FF0000" stroke-width="7"/>
<path d="M1159.1 598.42H1185.7M1172.4 585.12V611.72M1163.63 589.65L1181.17 607.19M1163.63 607.19L1181.17 589.65" fill="none" stroke="#FF0000" stroke-width="7.6"/>
</g>
<text class="lg" y="608.02"><tspan x="1244.28" textLength="33.7" lengthAdjust="spacingAndGlyphs">11</tspan> <tspan x="1292.37" textLength="52.99" lengthAdjust="spacingAndGlyphs">bits</tspan> <tspan x="1355.19" textLength="49.56" lengthAdjust="spacingAndGlyphs">PO</tspan> <tspan x="1414.76" textLength="93.65" lengthAdjust="spacingAndGlyphs">SNBC</tspan></text>
<g shape-rendering="crispEdges">
<path d="M1109 641.64H1236" fill="none" stroke="#0000FF" stroke-width="7" stroke-dasharray="26.3 24.1"/>
<path d="M1172.4 625.04L1184.8 641.64L1172.4 658.24L1160 641.64Z" fill="none" stroke="#0000FF" stroke-width="7.6" stroke-linejoin="miter" stroke-miterlimit="10"/>
</g>
<text class="lg" y="651.24"><tspan x="1244.26" textLength="35.32" lengthAdjust="spacingAndGlyphs">13</tspan> <tspan x="1292.37" textLength="52.99" lengthAdjust="spacingAndGlyphs">bits</tspan> <tspan x="1355.4" textLength="80" lengthAdjust="spacingAndGlyphs">CMC</tspan></text>
<g shape-rendering="crispEdges">
<path d="M1109 684.86H1236" fill="none" stroke="#0000FF" stroke-width="7" stroke-dasharray="26.3 24.1"/>
<path d="M1158.9 684.86H1185.9M1172.4 671.36V698.36" fill="none" stroke="#0000FF" stroke-width="7.6"/>
</g>
<text class="lg" y="694.46"><tspan x="1244.26" textLength="35.32" lengthAdjust="spacingAndGlyphs">13</tspan> <tspan x="1292.37" textLength="52.99" lengthAdjust="spacingAndGlyphs">bits</tspan> <tspan x="1355.42" textLength="80.72" lengthAdjust="spacingAndGlyphs">CMD</tspan></text>
<g shape-rendering="crispEdges">
<path d="M1109 728.08H1236" fill="none" stroke="#0000FF" stroke-width="7" stroke-dasharray="26.3 24.1"/>
<path d="M1189.4 728.08L1163.9 713.36L1163.9 742.8Z" fill="none" stroke="#0000FF" stroke-width="7.6" stroke-linejoin="miter" stroke-miterlimit="10"/>
</g>
<text class="lg" y="737.68"><tspan x="1244.26" textLength="35.32" lengthAdjust="spacingAndGlyphs">13</tspan> <tspan x="1292.37" textLength="52.99" lengthAdjust="spacingAndGlyphs">bits</tspan> <tspan x="1355.19" textLength="49.56" lengthAdjust="spacingAndGlyphs">PO</tspan> <tspan x="1415.7" textLength="98.52" lengthAdjust="spacingAndGlyphs">CNBC</tspan></text>
<g shape-rendering="crispEdges">
<path d="M1109 771.3H1236" fill="none" stroke="#0000FF" stroke-width="7" stroke-dasharray="26.3 24.1"/>
<path d="M1159.1 771.3H1185.7M1172.4 758V784.6M1163.63 762.53L1181.17 780.07M1163.63 780.07L1181.17 762.53" fill="none" stroke="#0000FF" stroke-width="7.6"/>
</g>
<text class="lg" y="780.9"><tspan x="1244.26" textLength="35.32" lengthAdjust="spacingAndGlyphs">13</tspan> <tspan x="1292.37" textLength="52.99" lengthAdjust="spacingAndGlyphs">bits</tspan> <tspan x="1355.19" textLength="49.56" lengthAdjust="spacingAndGlyphs">PO</tspan> <tspan x="1414.76" textLength="93.65" lengthAdjust="spacingAndGlyphs">SNBC</tspan></text>
</svg></body></html>
